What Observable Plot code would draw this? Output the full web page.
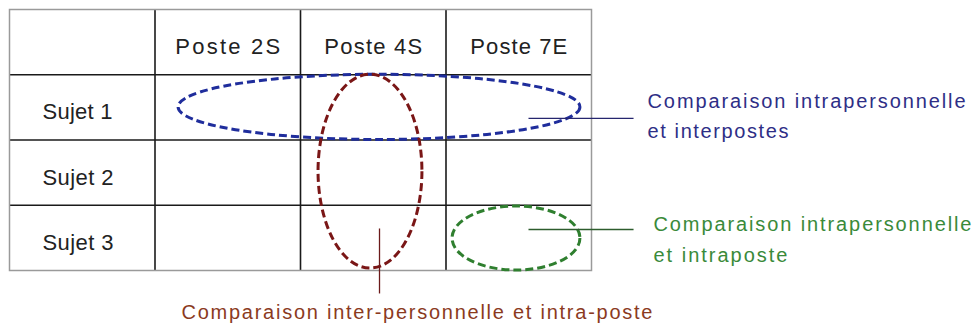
<!DOCTYPE html>
<html>
<head>
<meta charset="utf-8">
<script src="https://cdn.jsdelivr.net/npm/d3@7"></script>
<script src="https://cdn.jsdelivr.net/npm/@observablehq/plot@0.6"></script>
<style>
  html, body { margin: 0; padding: 0; background: #fff; }
  #chart svg { display: block; }
</style>
</head>
<body>
<div id="chart"></div>
<script>
// ---- data ----
const columns = ["Poste 2S", "Poste 4S", "Poste 7E"];
const rows = ["Sujet 1", "Sujet 2", "Sujet 3"];
const comparisons = ["interposte", "interpersonnelle", "intraposte"];
const comparisonCols = [["Poste 2S", "Poste 7E"], ["Poste 4S", "Poste 4S"], ["Poste 7E", "Poste 7E"]];
const comparisonRows = [["Sujet 1", "Sujet 1"], ["Sujet 1", "Sujet 3"], ["Sujet 3", "Sujet 3"]];
const labelLines = [
  ["Comparaison intrapersonnelle", "et interpostes"],
  ["Comparaison inter-personnelle et intra-poste"],
  ["Comparaison intrapersonnelle", "et intraposte"]
];

// ---- styles / layout (grid units: one unit = one table cell) ----
const colors = {
  interposte: {ellipse: "#1f2d9c", text: "#2e2e86", pointer: "#25256e"},
  interpersonnelle: {ellipse: "#7a1616", text: "#8b3a1e", pointer: "#6b1a1a"},
  intraposte: {ellipse: "#2f7f2f", text: "#3a8a3a", pointer: "#2d5d2d"}
};
const insets = { // left, right, top, bottom insets in cell units
  interposte: [0.162, 0.076, 0, 0],
  interpersonnelle: [0.124, 0.162, 0, 0.03],
  intraposte: [0.045, 0.076, 0.02, 0]
};
const labelPos = { // text anchor point and line y positions (grid units)
  interposte: {x: 4.385, y: [1.404, 1.864], anchor: "start"},
  interpersonnelle: {x: 1.182, y: [4.644], anchor: "start"},
  intraposte: {x: 4.426, y: [3.289, 3.779], anchor: "start"}
};
const pointerPos = {
  interposte: {x1: 3.567, x2: 4.289, y1: 1.670, y2: 1.670},
  interpersonnelle: {x1: 2.543, x2: 2.543, y1: 3.356, y2: 4.352},
  intraposte: {x1: 3.567, x2: 4.289, y1: 3.372, y2: 3.372}
};
const textWidths = new Map([
  ["Poste 2S", 105], ["Poste 4S", 98], ["Poste 7E", 97],
  ["Sujet 1", 70], ["Sujet 2", 71], ["Sujet 3", 71],
  ["Comparaison intrapersonnelle", 318], ["et interpostes", 141], ["et intraposte", 134],
  ["Comparaison inter-personnelle et intra-poste", 471]
]);

// ---- derived tables ----
const nCols = columns.length + 1, nRows = rows.length + 1;
const headers = columns.map((c, i) => ({label: c, x: i + 1.5, y: 0.5}));
const rowLabels = rows.map((r, j) => ({label: r, x: 0, y: j + 1.5}));
const ellipseData = comparisons.map((k, i) => {
  const [l, r, t, b] = insets[k];
  return {
    key: k,
    x1: columns.indexOf(comparisonCols[i][0]) + 1 + l,
    x2: columns.indexOf(comparisonCols[i][1]) + 2 - r,
    y1: rows.indexOf(comparisonRows[i][0]) + 1 + t,
    y2: rows.indexOf(comparisonRows[i][1]) + 2 - b
  };
});
const labels = comparisons.flatMap((k, i) =>
  labelLines[i].map((line, j) => ({key: k, label: line, x: labelPos[k].x, y: labelPos[k].y[j]})));
const pointers = comparisons.map(k => ({key: k, ...pointerPos[k]}));

function ellipseMark(index, scales) {
  const g = d3.create("svg:g").attr("fill", "none").attr("aria-label", "ellipses");
  for (const e of ellipseData) {
    const x1 = scales.x(e.x1), x2 = scales.x(e.x2), y1 = scales.y(e.y1), y2 = scales.y(e.y2);
    g.append("ellipse")
      .attr("cx", (x1 + x2) / 2).attr("cy", (y1 + y2) / 2)
      .attr("rx", Math.abs(x2 - x1) / 2).attr("ry", Math.abs(y2 - y1) / 2)
      .attr("stroke", colors[e.key].ellipse)
      .attr("stroke-width", 3)
      .attr("stroke-dasharray", "8 4");
  }
  return g.node();
}

const font = "'Liberation Sans', Arial, sans-serif";

const chart = Plot.plot({
  width: 977,
  height: 331,
  marginLeft: 9,
  marginRight: 386,
  marginTop: 9,
  marginBottom: 61,
  style: {background: "#fff", fontFamily: font, overflow: "visible"},
  x: {domain: [0, nCols], axis: null},
  y: {domain: [0, nRows], reverse: true, axis: null},
  marks: [
    Plot.ruleX(d3.range(1, nCols), {y1: 0, y2: nRows, stroke: "#1a1a1a", strokeWidth: 1.6}),
    Plot.ruleY(d3.range(1, nRows), {x1: 0, x2: nCols, stroke: "#1a1a1a", strokeWidth: 1.6}),
    Plot.frame({stroke: "#9a9a9a", strokeWidth: 1.5}),
    Plot.text(headers, {x: "x", y: "y", text: "label", fontSize: 22, dy: 5, fill: "#222"}),
    Plot.text(rowLabels, {x: "x", y: "y", text: "label", fontSize: 22, dx: 33, dy: 5, textAnchor: "start", fill: "#222"}),
    ellipseMark,
    Plot.link(pointers, {x1: "x1", x2: "x2", y1: "y1", y2: "y2", stroke: d => colors[d.key].pointer, strokeWidth: 1.3}),
    Plot.text(labels, {x: "x", y: "y", text: "label", fontSize: 20, textAnchor: "start", fill: d => colors[d.key].text})
  ]
});

d3.select(chart).selectAll("text").each(function () {
  const w = textWidths.get(this.textContent);
  if (w) {
    this.setAttribute("textLength", w);
    this.setAttribute("lengthAdjust", "spacing");
  }
});

document.getElementById("chart").appendChild(chart);
</script>
</body>
</html>
